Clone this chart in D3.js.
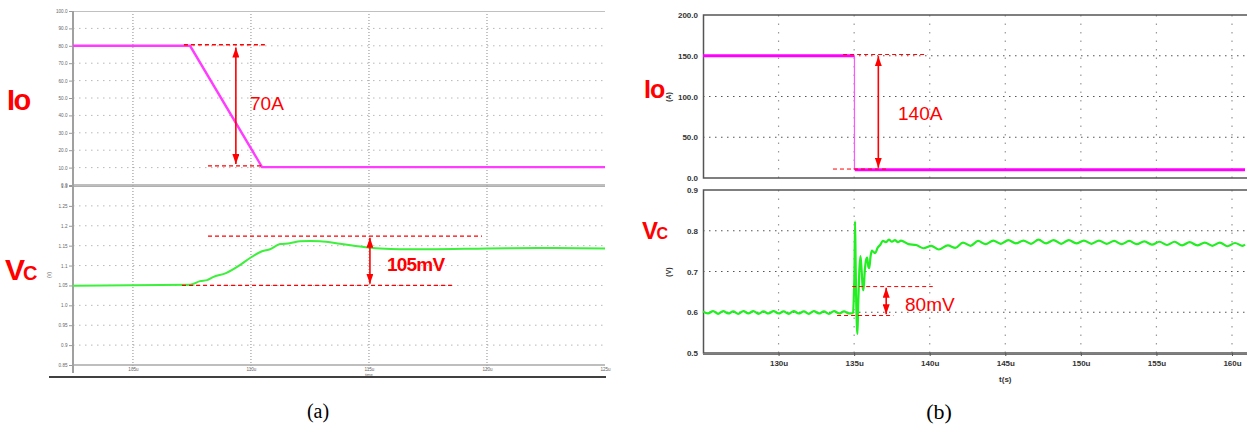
<!DOCTYPE html>
<html><head><meta charset="utf-8">
<script src="https://cdn.jsdelivr.net/npm/d3@7"></script>
<style>body{margin:0;background:#fff} svg{display:block}</style>
</head><body>
<svg id="c" width="1247" height="427"></svg>
<script>
// ================= DATA =================
// Panel (a)
const ioA_t = [102.46, 107.42, 110.47, 125];
const ioA_v = [80, 80, 10.3, 10.3];
const vcA_t = [102.46, 107.42, 107.84, 108.14, 108.39, 108.94, 109.53, 109.96, 110.47, 110.81, 111.23, 111.65, 112.08, 112.5, 112.92, 113.77, 114.62, 115.47, 116.31, 117.58, 120.0, 122.25, 125.0];
const vcA_v = [1.049, 1.0517, 1.0609, 1.0634, 1.071, 1.081, 1.101, 1.119, 1.136, 1.141, 1.154, 1.156, 1.161, 1.162, 1.161, 1.155, 1.148, 1.143, 1.141, 1.141, 1.143, 1.144, 1.143];
const ioA_ticks = [0,10,20,30,40,50,60,70,80,90,100];
const ioA_tickLabels = ["0.0","10.0","20.0","30.0","40.0","50.0","60.0","70.0","80.0","90.0","100.0"];
const vcA_ticks = [0.85,0.9,0.95,1.0,1.05,1.1,1.15,1.2,1.25,1.3];
const vcA_tickLabels = ["0.85","0.9","0.95","1.0","1.05","1.1","1.15","1.2","1.25","1.3"];
const tA_ticks = [105,110,115,120,125];
const tA_tickLabels = ["105u","110u","115u","120u","125u"];
// annotations (a): dashed reference lines [t0, t1, value], arrows [t, v0, v1]
const ioA_dash = [[107.16, 110.59, 80.6], [108.18, 110.47, 11.0]];
const ioA_arrow = [109.36, 79.0, 12.0];
const vcA_dash = [[108.18, 119.79, 1.174], [107.08, 118.56, 1.050]];
const vcA_arrow = [115.04, 1.170, 1.054];

// Panel (b)
const ioB_segs = [[125, 135.0, 150], [135.04, 160.86, 10]];   // thick horizontal levels
const ioB_step_t = [135.02, 135.02];
const ioB_step_v = [150, 10];
const vcB_t = [125.0,125.33,125.67,126.0,126.33,126.67,127.0,127.33,127.67,128.0,128.33,128.67,129.0,129.33,129.67,130.0,130.33,130.67,131.0,131.33,131.67,132.0,132.33,132.67,133.0,133.33,133.67,134.0,134.33,134.67,134.93,
  134.98,135.02,135.06,135.10,135.14,135.19,135.22,135.27,135.34,135.42,135.50,135.57,135.62,135.70,135.80,135.86,135.94,136.0,136.08,136.17,136.28,136.39,136.55,136.72,136.9,137.1,137.3,137.5,137.7,137.9,
  138.1,138.6,139.1,139.6,140.1,140.6,141.2,141.7,142.2,142.7,143.2,143.7,144.2,144.7,145.2,145.7,146.2,146.7,147.2,147.7,148.2,148.7,149.2,149.7,150.2,150.7,151.2,151.7,152.2,152.7,153.2,153.7,154.2,154.7,155.2,155.7,156.2,156.7,157.2,157.7,158.2,158.7,159.2,159.7,160.2,160.7,160.86];
const vcB_v = [0.602,0.597,0.603,0.596,0.603,0.597,0.602,0.596,0.603,0.597,0.603,0.596,0.602,0.597,0.603,0.597,0.602,0.596,0.603,0.597,0.602,0.596,0.603,0.597,0.602,0.596,0.603,0.597,0.602,0.597,0.598,
  0.64,0.70,0.823,0.72,0.62,0.56,0.547,0.62,0.70,0.738,0.70,0.66,0.654,0.70,0.730,0.734,0.712,0.708,0.735,0.751,0.748,0.745,0.758,0.765,0.775,0.772,0.778,0.773,0.777,0.772,
  0.776,0.767,0.765,0.757,0.763,0.754,0.764,0.758,0.771,0.763,0.775,0.767,0.776,0.768,0.777,0.769,0.776,0.768,0.778,0.769,0.777,0.768,0.777,0.769,0.776,0.768,0.776,0.768,0.775,0.767,0.775,0.767,0.774,0.766,0.773,0.765,0.773,0.764,0.772,0.764,0.771,0.763,0.771,0.762,0.770,0.763,0.766];
const ioB_ticks = [0,50,100,150,200];
const ioB_tickLabels = ["0.0","50.0","100.0","150.0","200.0"];
const vcB_ticks = [0.5,0.6,0.7,0.8,0.9];
const vcB_tickLabels = ["0.5","0.6","0.7","0.8","0.9"];
const tB_ticks = [130,135,140,145,150,155,160];
const tB_tickLabels = ["130u","135u","140u","145u","150u","155u","160u"];
const ioB_dash = [[134.27, 139.84, 151.5], [133.6, 137.2, 11.0]];
const ioB_arrow = [136.6, 149.5, 12.5];
const vcB_dash = [[134.87, 140.2, 0.663], [133.87, 137.6, 0.592]];
const vcB_arrow = [137.12, 0.660, 0.595];

// ================= DRAWING =================
const svg = d3.select("#c");
const RED = "#ff0000";
const defs = svg.append("defs");
defs.append("marker").attr("id","ah").attr("viewBox","0 0 10 7")
  .attr("refX",10).attr("refY",3.5).attr("markerWidth",10).attr("markerHeight",7)
  .attr("markerUnits","userSpaceOnUse").attr("orient","auto-start-reverse")
  .append("path").attr("d","M0,0 L10,3.5 L0,7 Z").attr("fill",RED);

function zip(a,b){ return a.map((d,i)=>[d,b[i]]); }

// ---------- Panel (a) ----------
const xA = d3.scaleLinear().domain([102.46,125]).range([73,605]);
const yIoA = d3.scaleLinear().domain([0,100]).range([185,11]);
const yVcA = d3.scaleLinear().domain([0.85,1.3]).range([365,186]);
const gA = svg.append("g");

function gridA(y, ticks, top, bottom){
  gA.append("g").selectAll("line").data(ticks.slice(1,-1)).join("line")
    .attr("x1",73).attr("x2",605).attr("y1",d=>y(d)).attr("y2",d=>y(d))
    .attr("stroke","#b8b8b8").attr("stroke-width",1).attr("stroke-dasharray","1.5,4.5");
}
gridA(yIoA, ioA_ticks); gridA(yVcA, vcA_ticks);
gA.append("g").selectAll("line").data(tA_ticks.slice(0,-1)).join("line")
  .attr("x1",d=>xA(d)).attr("x2",d=>xA(d)).attr("y1",11).attr("y2",370)
  .attr("stroke","#8a8a8a").attr("stroke-width",1).attr("stroke-dasharray","1,2");
// frames
gA.append("line").attr("x1",73).attr("x2",605).attr("y1",11.5).attr("y2",11.5).attr("stroke","#c0c0c0").attr("stroke-width",1.2);
gA.append("line").attr("x1",73).attr("x2",605).attr("y1",185).attr("y2",185).attr("stroke","#a8a8a8").attr("stroke-width",1.5);
gA.append("line").attr("x1",73).attr("x2",605).attr("y1",186.5).attr("y2",186.5).attr("stroke","#b0b0b0").attr("stroke-width",1.2);
gA.append("line").attr("x1",73).attr("x2",605).attr("y1",365).attr("y2",365).attr("stroke","#a8a8a8").attr("stroke-width",1.5);
gA.append("line").attr("x1",73).attr("x2",73).attr("y1",11).attr("y2",373).attr("stroke","#a0a0a0").attr("stroke-width",2);
gA.append("line").attr("x1",49).attr("x2",606).attr("y1",377).attr("y2",377).attr("stroke","#000").attr("stroke-width",1.5);

function styleTinyAxis(g){
  g.select(".domain").remove();
  g.selectAll(".tick line").attr("stroke","#999");
  g.selectAll("text").attr("font-family","Arial, Liberation Sans, sans-serif").attr("font-size",4.6).attr("fill","#666");
}
gA.append("g").attr("transform","translate(72,0)")
  .call(d3.axisLeft(yIoA).tickValues(ioA_ticks).tickFormat((d,i)=>ioA_tickLabels[i]).tickSize(3).tickPadding(1.5))
  .call(styleTinyAxis);
gA.append("g").attr("transform","translate(72,0)")
  .call(d3.axisLeft(yVcA).tickValues(vcA_ticks).tickFormat((d,i)=>vcA_tickLabels[i]).tickSize(3).tickPadding(1.5))
  .call(styleTinyAxis);
gA.append("g").attr("transform","translate(0,366)")
  .call(d3.axisBottom(xA).tickValues(tA_ticks).tickFormat((d,i)=>tA_tickLabels[i]).tickSize(0).tickPadding(2))
  .call(styleTinyAxis);
gA.append("text").attr("x",xA(115)).attr("y",376).attr("text-anchor","middle")
  .attr("font-family","Arial, sans-serif").attr("font-size",4.2).attr("fill","#666").text("time");
gA.append("text").attr("transform","translate(51,275) rotate(-90)").attr("text-anchor","middle")
  .attr("font-family","Arial, sans-serif").attr("font-size",4.5).attr("fill","#666").text("(V)");

// traces
gA.append("path").datum(zip(ioA_t,ioA_v))
  .attr("d",d3.line().x(d=>xA(d[0])).y(d=>yIoA(d[1])))
  .attr("fill","none").attr("stroke","#ff3cff").attr("stroke-width",2.4);
gA.append("path").datum(zip(vcA_t,vcA_v))
  .attr("d",d3.line().curve(d3.curveMonotoneX).x(d=>xA(d[0])).y(d=>yVcA(d[1])))
  .attr("fill","none").attr("stroke","#3cf03c").attr("stroke-width",2);

function annot(g, x, y, dashes, arrow, dashArr, w){
  g.append("g").selectAll("line").data(dashes).join("line")
    .attr("x1",d=>x(d[0])).attr("x2",d=>x(d[1])).attr("y1",d=>y(d[2])).attr("y2",d=>y(d[2]))
    .attr("stroke",RED).attr("stroke-width",w).attr("stroke-dasharray",dashArr);
  g.append("line").attr("x1",x(arrow[0])).attr("x2",x(arrow[0]))
    .attr("y1",y(arrow[1])).attr("y2",y(arrow[2]))
    .attr("stroke",RED).attr("stroke-width",1.6)
    .attr("marker-start","url(#ah)").attr("marker-end","url(#ah)");
}
annot(gA, xA, yIoA, ioA_dash, ioA_arrow, "4,3", 1.3);
annot(gA, xA, yVcA, vcA_dash, vcA_arrow, "4,3", 1.3);

const sans = "Arial, 'Liberation Sans', sans-serif";
gA.append("text").attr("x",250).attr("y",110).attr("font-family",sans).attr("font-size",19).attr("fill",RED).text("70A");
gA.append("text").attr("x",387).attr("y",271).attr("font-family",sans).attr("font-size",19).attr("font-weight","bold").attr("letter-spacing",-0.8).attr("fill",RED).text("105mV");
gA.append("text").attr("x",7).attr("y",110).attr("font-family",sans).attr("font-size",29).attr("font-weight","bold").attr("letter-spacing",-1.5).attr("fill",RED).text("Io");
const vA = gA.append("text").attr("x",5).attr("y",280).attr("font-family",sans).attr("font-weight","bold").attr("fill",RED);
vA.append("tspan").attr("font-size",30).attr("letter-spacing",-2).text("V");
vA.append("tspan").attr("font-size",20).text("C");
gA.append("text").attr("x",318).attr("y",418).attr("text-anchor","middle").attr("font-family","'Liberation Serif', 'Times New Roman', serif").attr("font-size",20).attr("fill","#000").text("(a)");

// ---------- Panel (b) ----------
const xB = d3.scaleLinear().domain([125,160.86]).range([703,1245]);
const yIoB = d3.scaleLinear().domain([0,200]).range([178,15]);
const yVcB = d3.scaleLinear().domain([0.5,0.9]).range([353,190]);
const gB = svg.append("g");

function gridB(y, ticks){
  gB.append("g").selectAll("line").data(ticks.slice(1,-1)).join("line")
    .attr("x1",703).attr("x2",1247).attr("y1",d=>y(d)).attr("y2",d=>y(d))
    .attr("stroke","#555").attr("stroke-width",1.1).attr("stroke-dasharray","1.5,4.5");
}
gridB(yIoB, ioB_ticks); gridB(yVcB, vcB_ticks);
[[15,178],[190,353]].forEach(([a,b])=>{
  gB.append("g").selectAll("line").data(tB_ticks).join("line")
    .attr("x1",d=>xB(d)).attr("x2",d=>xB(d)).attr("y1",a).attr("y2",b)
    .attr("stroke","#999").attr("stroke-width",1.2).attr("stroke-dasharray","1.5,7");
});
// frames
[[15,178],[190,353]].forEach(([a,b])=>{
  gB.append("path").attr("d",`M1247,${a}H703.5V${b}H1247`).attr("fill","none").attr("stroke","#555").attr("stroke-width",1.5);
});
gB.append("line").attr("x1",703).attr("x2",1247).attr("y1",354.5).attr("y2",354.5).attr("stroke","#777").attr("stroke-width",1);

function styleB(g){
  g.select(".domain").remove();
  g.selectAll(".tick line").attr("stroke","#555");
  g.selectAll("text").attr("font-family",sans).attr("font-size",8).attr("font-weight","bold").attr("fill","#333");
}
gB.append("g").attr("transform","translate(703,0)")
  .call(d3.axisLeft(yIoB).tickValues(ioB_ticks).tickFormat((d,i)=>ioB_tickLabels[i]).tickSize(0).tickPadding(5))
  .call(styleB);
gB.append("g").attr("transform","translate(703,0)")
  .call(d3.axisLeft(yVcB).tickValues(vcB_ticks).tickFormat((d,i)=>vcB_tickLabels[i]).tickSize(0).tickPadding(5))
  .call(styleB);
gB.append("g").attr("transform","translate(0,353)")
  .call(d3.axisBottom(xB).tickValues(tB_ticks).tickFormat((d,i)=>tB_tickLabels[i]).tickSize(3).tickPadding(4))
  .call(styleB);
gB.append("text").attr("x",xB(145)).attr("y",382).attr("text-anchor","middle").attr("font-family",sans).attr("font-size",8).attr("font-weight","bold").attr("fill","#333").text("t(s)");
gB.append("text").attr("transform","translate(671,97) rotate(-90)").attr("text-anchor","middle").attr("font-family",sans).attr("font-size",7).attr("font-weight","bold").attr("fill","#333").text("(A)");
gB.append("text").attr("transform","translate(671,272) rotate(-90)").attr("text-anchor","middle").attr("font-family",sans).attr("font-size",7).attr("font-weight","bold").attr("fill","#333").text("(V)");

// traces
gB.append("path").datum(zip(ioB_step_t,ioB_step_v))
  .attr("d",d3.line().x(d=>xB(d[0])).y(d=>yIoB(d[1])))
  .attr("fill","none").attr("stroke","#ff55ff").attr("stroke-width",1.2);
gB.append("g").selectAll("line").data(ioB_segs).join("line")
  .attr("x1",d=>xB(d[0])).attr("x2",d=>xB(d[1])).attr("y1",d=>yIoB(d[2])).attr("y2",d=>yIoB(d[2]))
  .attr("stroke","#ff00ff").attr("stroke-width",3);
gB.append("path").datum(zip(vcB_t,vcB_v))
  .attr("d",d3.line().curve(d3.curveMonotoneX).x(d=>xB(d[0])).y(d=>yVcB(d[1])))
  .attr("fill","none").attr("stroke","#22ee22").attr("stroke-width",2.2);

annot(gB, xB, yIoB, ioB_dash, ioB_arrow, "4,3", 1);
annot(gB, xB, yVcB, vcB_dash, vcB_arrow, "4,3", 1);

gB.append("text").attr("x",898).attr("y",120).attr("font-family",sans).attr("font-size",19).attr("fill",RED).text("140A");
gB.append("text").attr("x",905).attr("y",311).attr("font-family",sans).attr("font-size",19).attr("fill",RED).text("80mV");
gB.append("text").attr("x",644).attr("y",98).attr("font-family",sans).attr("font-size",25).attr("font-weight","bold").attr("letter-spacing",-1).attr("fill",RED).text("Io");
const vB = gB.append("text").attr("x",642).attr("y",239).attr("font-family",sans).attr("font-weight","bold").attr("fill",RED);
vB.append("tspan").attr("font-size",24).attr("letter-spacing",-1.5).text("V");
vB.append("tspan").attr("font-size",16).text("C");
gB.append("text").attr("x",939).attr("y",419).attr("text-anchor","middle").attr("font-family","'Liberation Serif', 'Times New Roman', serif").attr("font-size",22).attr("fill","#000").text("(b)");
</script>
</body></html>
